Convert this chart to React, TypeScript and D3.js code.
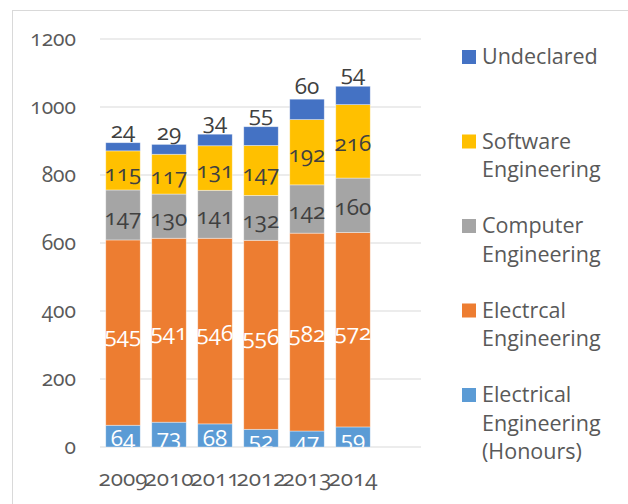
import React from "react";
import * as d3 from "d3";

const years = ["2009", "2010", "2011", "2012", "2013", "2014"];
const honours = [64, 73, 68, 52, 47, 59];
const electrcal = [545, 541, 546, 556, 582, 572];
const computer = [147, 130, 141, 132, 142, 160];
const software = [115, 117, 131, 147, 192, 216];
const undeclared = [24, 29, 34, 55, 60, 54];
const yTicks = [0, 200, 400, 600, 800, 1000, 1200];

const seriesKeys = ["honours", "electrcal", "computer", "software", "undeclared"];
const seriesLabels: Record<string, string[]> = {
  undeclared: ["Undeclared"],
  software: ["Software", "Engineering"],
  computer: ["Computer", "Engineering"],
  electrcal: ["Electrcal", "Engineering"],
  honours: ["Electrical", "Engineering", "(Honours)"],
};
const colors: Record<string, string> = {
  honours: "#5B9BD5",
  electrcal: "#ED7D31",
  computer: "#A5A5A5",
  software: "#FFC000",
  undeclared: "#4472C4",
};
const labelColors: Record<string, string> = {
  honours: "#ffffff",
  electrcal: "#ffffff",
  computer: "#404040",
  software: "#404040",
  undeclared: "#404040",
};

const W = 628;
const H = 504;
const FONT = "'Open Sans', 'Noto Sans', sans-serif";

export default function App() {
  const rows = years.map((yr, i) => ({
    year: yr,
    honours: honours[i],
    electrcal: electrcal[i],
    computer: computer[i],
    software: software[i],
    undeclared: undeclared[i],
  }));
  const stacked = d3.stack<any>().keys(seriesKeys)(rows);

  const y = d3.scaleLinear().domain([0, 1200]).range([447, 39]);
  const x = d3
    .scaleBand<string>()
    .domain(years)
    .range([100, 376])
    .paddingInner(0.25)
    .paddingOuter(0.125);
  const gridX0 = 100;
  const gridX1 = 421;

  const legendOrder = ["undeclared", "software", "computer", "electrcal", "honours"];
  const num = { fontVariantNumeric: "oldstyle-nums" as const };

  return (
    <svg
      width={W}
      height={H}
      style={{ position: "absolute", left: 0, top: 0, background: "#fff" }}
      fontFamily={FONT}
    >
      <defs>
        <clipPath id="plotClip">
          <rect x={0} y={0} width={W} height={447} />
        </clipPath>
      </defs>
      <rect x={0} y={0} width={W} height={H} fill="#fff" />
      <rect x={12.5} y={10.5} width={700} height={600} fill="none" stroke="#d9d9d9" strokeWidth={1} />

      {yTicks.map((t) => (
        <g key={t}>
          <line x1={gridX0} x2={gridX1} y1={y(t)} y2={y(t)} stroke="#d9d9d9" strokeWidth={1} />
          <text x={76} y={y(t) + 6.5} textAnchor="end" fontSize={21} fill="#595959" style={num}>
            {t}
          </text>
        </g>
      ))}

      {stacked.map((s) => (
        <g key={s.key}>
          {s.map((d, i) => (
            <rect
              key={i}
              x={x(years[i])}
              width={x.bandwidth()}
              y={y(d[1])}
              height={y(d[0]) - y(d[1])}
              fill={colors[s.key]}
              stroke="#ffffff"
              strokeOpacity={0.5}
              strokeWidth={0.75}
            />
          ))}
        </g>
      ))}

      <g clipPath="url(#plotClip)">
        {stacked.map((s) =>
          s.map((d, i) => {
            const cx = (x(years[i]) as number) + x.bandwidth() / 2;
            let cy = (y(d[0]) + y(d[1])) / 2 + 2;
            if (s.key === "undeclared") cy = y(d[1]) - 13;
            return (
              <text
                key={s.key + i}
                x={cx}
                y={cy}
                dy="0.36em"
                textAnchor="middle"
                fontSize={22.5}
                fill={labelColors[s.key]}
                style={num}
              >
                {d[1] - d[0]}
              </text>
            );
          })
        )}
      </g>

      {years.map((yr) => (
        <text
          key={yr}
          x={(x(yr) as number) + x.bandwidth() / 2}
          y={486}
          textAnchor="middle"
          fontSize={22.5}
          fill="#595959"
          style={num}
        >
          {yr}
        </text>
      ))}

      {legendOrder.map((k, j) => {
        const base = 64 + j * 84.5;
        return (
          <g key={k}>
            <rect x={462} y={base - 14} width={14} height={14} fill={colors[k]} />
            {seriesLabels[k].map((line, li) => (
              <text key={li} x={482} y={base + li * 28.7} fontSize={21.5} fill="#595959">
                {line}
              </text>
            ))}
          </g>
        );
      })}
    </svg>
  );
}
